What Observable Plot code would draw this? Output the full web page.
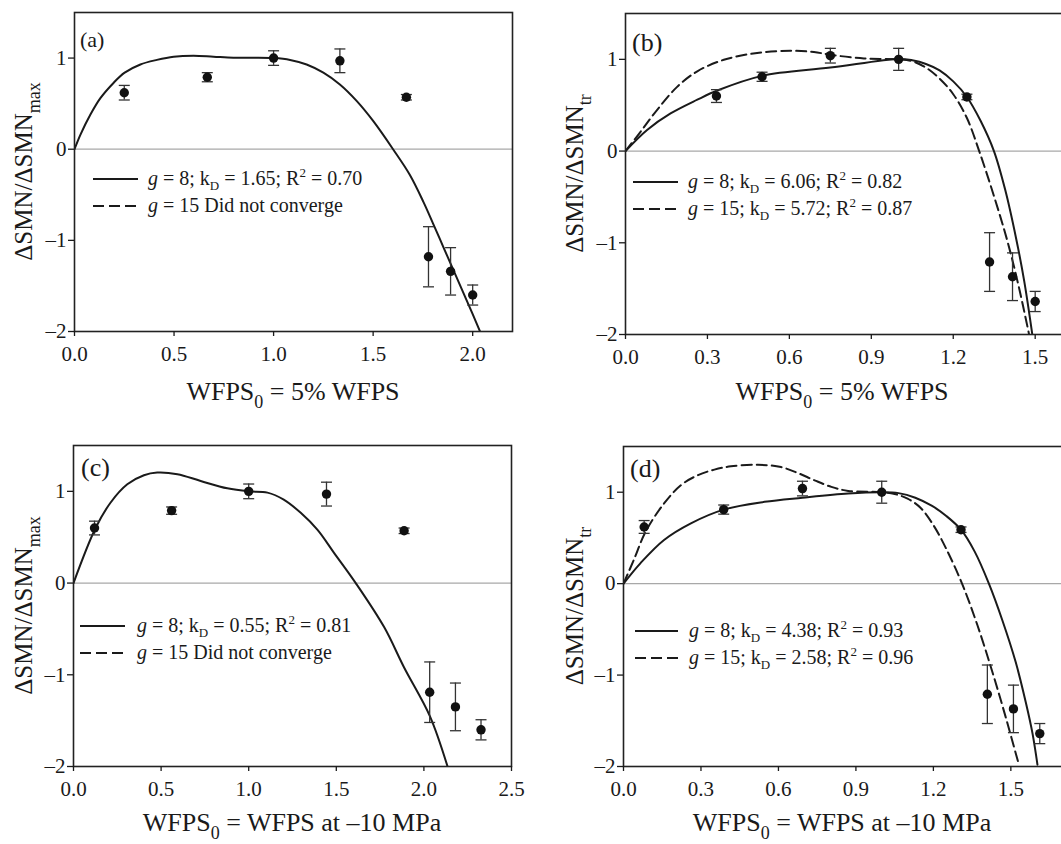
<!DOCTYPE html>
<html><head><meta charset="utf-8">
<script src="https://cdn.jsdelivr.net/npm/d3@7"></script>
<script src="https://cdn.jsdelivr.net/npm/@observablehq/plot@0.6"></script>
<style>
html,body{margin:0;padding:0;background:#fff;overflow:hidden;}
#root{position:relative;width:1061px;height:844px;overflow:hidden;}
.panel{position:absolute;}
</style></head><body><div id="root"></div>
<script>
// ---------- data ----------
const yTicks = [-2, -1, 0, 1];
const xTicksA = [0, 0.5, 1.0, 1.5, 2.0];
const xTicksB = [0, 0.3, 0.6, 0.9, 1.2, 1.5];
const xTicksC = [0, 0.5, 1.0, 1.5, 2.0, 2.5];
const xTicksD = [0, 0.3, 0.6, 0.9, 1.2, 1.5];

// observed points (x, y, +/- error)
const ptsA_x = [0.25, 0.667, 1.0, 1.333, 1.667, 1.778, 1.889, 2.0];
const ptsA_y = [0.62, 0.79, 1.0, 0.97, 0.57, -1.18, -1.34, -1.60];
const ptsA_e = [0.08, 0.05, 0.08, 0.13, 0.03, 0.33, 0.26, 0.11];

const ptsB_x = [0.333, 0.5, 0.75, 1.0, 1.25, 1.333, 1.417, 1.5];
const ptsB_y = [0.60, 0.81, 1.04, 1.0, 0.59, -1.21, -1.37, -1.64];
const ptsB_e = [0.07, 0.05, 0.08, 0.12, 0.03, 0.32, 0.26, 0.11];

const ptsC_x = [0.12, 0.56, 1.0, 1.444, 1.887, 2.033, 2.18, 2.326];
const ptsC_y = [0.60, 0.79, 1.0, 0.97, 0.57, -1.19, -1.35, -1.60];
const ptsC_e = [0.075, 0.04, 0.08, 0.13, 0.03, 0.33, 0.26, 0.11];

const ptsD_x = [0.08, 0.388, 0.693, 1.0, 1.307, 1.409, 1.51, 1.612];
const ptsD_y = [0.62, 0.81, 1.04, 1.0, 0.59, -1.21, -1.37, -1.64];
const ptsD_e = [0.07, 0.05, 0.08, 0.12, 0.03, 0.32, 0.26, 0.11];

const fitA8_x = [0, 0.03, 0.08, 0.13, 0.197, 0.252, 0.331, 0.414, 0.498, 0.598, 0.698, 0.798, 0.899, 1.0, 1.083, 1.166, 1.25, 1.333, 1.417, 1.50, 1.60, 1.684, 1.753, 1.80, 1.85, 1.90, 1.95, 2.0, 2.037];
const fitA8_y = [0, 0.16, 0.38, 0.56, 0.73, 0.84, 0.93, 0.98, 1.015, 1.026, 1.015, 1.004, 1.004, 1.0, 0.98, 0.93, 0.84, 0.71, 0.53, 0.31, 0, -0.28, -0.58, -0.81, -1.06, -1.31, -1.56, -1.81, -2.0];

const fitB8_x = [0, 0.079, 0.165, 0.263, 0.336, 0.50, 0.75, 1.0, 1.05, 1.10, 1.15, 1.20, 1.25, 1.30, 1.349, 1.39, 1.43, 1.46, 1.489];
const fitB8_y = [0, 0.23, 0.41, 0.56, 0.66, 0.82, 0.91, 1.005, 0.99, 0.95, 0.88, 0.76, 0.59, 0.33, 0, -0.42, -0.95, -1.42, -1.99];
const fitB15_x = [0, 0.055, 0.116, 0.189, 0.263, 0.36, 0.482, 0.604, 0.69, 0.75, 0.873, 1.0, 1.05, 1.10, 1.15, 1.20, 1.25, 1.295, 1.35, 1.40, 1.44, 1.477];
const fitB15_y = [0, 0.21, 0.45, 0.70, 0.87, 0.995, 1.07, 1.093, 1.08, 1.05, 1.01, 1.0, 0.98, 0.91, 0.79, 0.62, 0.36, 0, -0.5, -1.0, -1.48, -1.99];

const fitC8_x = [0, 0.126, 0.211, 0.307, 0.402, 0.478, 0.593, 0.726, 0.878, 1.0, 1.107, 1.20, 1.297, 1.393, 1.487, 1.611, 1.773, 1.887, 2.034, 2.135];
const fitC8_y = [0, 0.60, 0.876, 1.077, 1.176, 1.205, 1.187, 1.113, 1.033, 1.0, 0.986, 0.91, 0.766, 0.58, 0.33, 0, -0.48, -0.92, -1.45, -2.0];

const fitD8_x = [0, 0.066, 0.157, 0.261, 0.388, 0.546, 0.693, 0.87, 1.0, 1.065, 1.13, 1.195, 1.25, 1.307, 1.36, 1.415, 1.467, 1.519, 1.558, 1.584, 1.603];
const fitD8_y = [0, 0.225, 0.478, 0.66, 0.81, 0.895, 0.94, 0.986, 1.0, 0.99, 0.94, 0.85, 0.74, 0.59, 0.35, 0, -0.40, -0.86, -1.30, -1.64, -1.98];
const fitD15_x = [0, 0.04, 0.086, 0.157, 0.222, 0.287, 0.352, 0.416, 0.52, 0.61, 0.675, 0.74, 0.805, 0.87, 1.0, 1.05, 1.10, 1.15, 1.20, 1.25, 1.311, 1.37, 1.43, 1.48, 1.532];
const fitD15_y = [0, 0.26, 0.57, 0.877, 1.076, 1.185, 1.247, 1.283, 1.30, 1.275, 1.21, 1.13, 1.058, 1.014, 1.0, 0.98, 0.93, 0.83, 0.64, 0.38, 0, -0.45, -0.98, -1.46, -1.99];

// texts
const panelTags = ["(a)", "(b)", "(c)", "(d)"];
const yLabelMain = "ΔSMN/ΔSMN";
const yLabelSubs = ["max", "tr", "max", "tr"];
const xLabelTails = [" = 5% WFPS", " = 5% WFPS", " = WFPS at –10 MPa", " = WFPS at –10 MPa"];
const legendA = [["8", "1.65", "0.70"], ["15", null, null]];
const legendB = [["8", "6.06", "0.82"], ["15", "5.72", "0.87"]];
const legendC = [["8", "0.55", "0.81"], ["15", null, null]];
const legendD = [["8", "4.38", "0.93"], ["15", "2.58", "0.96"]];

// ---------- drawing ----------
const FONT = "'Liberation Serif','Times New Roman',serif";
const INK = "#1a1a1a";
const zip = (xs, ys) => xs.map((x, i) => ({x, y: ys[i]}));
const capSym = {draw(ctx) { ctx.moveTo(-5.5, 0); ctx.lineTo(5.5, 0); }};

function richText(g, x, y, segs, size, anchor) {
  const t = g.append("text").attr("x", x).attr("y", y).attr("font-size", size)
    .attr("font-family", FONT).attr("fill", INK).attr("text-anchor", anchor || "start");
  let shift = 0;
  for (const s of segs) {
    const target = s.sub ? (s.subShift ?? size * 0.27) : s.sup ? -size * 0.4 : 0;
    const ts = t.append("tspan").text(s.t);
    if (target - shift !== 0) ts.attr("dy", target - shift);
    shift = target;
    if (s.sub || s.sup) ts.attr("font-size", s.size ?? size * 0.65);
    if (s.italic) ts.attr("font-style", "italic");
  }
  return t;
}

function legendSegs(row) {
  const [g, kd, r2] = row;
  if (kd == null) return [{t: "g", italic: true}, {t: ` = ${g} Did not converge`}];
  return [{t: "g", italic: true}, {t: ` = ${g}; k`}, {t: "D", sub: true}, {t: ` = ${kd}; R`}, {t: "2", sup: true}, {t: ` = ${r2}`}];
}

function panel(cfg) {
  const pts = cfg.px.map((x, i) => ({x, y: cfg.py[i], lo: cfg.py[i] - cfg.pe[i], hi: cfg.py[i] + cfg.pe[i]}));
  const marks = [
    Plot.ruleY([0], {stroke: "#a8a8a8", strokeWidth: 1.3}),
    ...cfg.fits.map(f => Plot.line(zip(f.x, f.y), {x: "x", y: "y", curve: "catmull-rom", stroke: INK, strokeWidth: 2, strokeDasharray: f.dash ? "10,5" : null, clip: true})),
    Plot.ruleX(pts, {x: "x", y1: "lo", y2: "hi", stroke: "#333", strokeWidth: 1.3}),
    Plot.dot(pts, {x: "x", y: "hi", symbol: capSym, fill: "none", stroke: "#333", strokeWidth: 1.3}),
    Plot.dot(pts, {x: "x", y: "lo", symbol: capSym, fill: "none", stroke: "#333", strokeWidth: 1.3}),
    Plot.dot(pts, {x: "x", y: "y", r: 4.7, fill: "#111", stroke: "none"}),
    Plot.frame({stroke: "#222", strokeWidth: 1.6}),
    Plot.axisX({ticks: cfg.xTicks, tickFormat: d3.format(".1f"), tickSize: 5, tickPadding: 10, label: null, strokeWidth: 1.3}),
    Plot.axisY({ticks: yTicks, tickFormat: d => d < 0 ? "–" + Math.abs(d) : String(d), tickSize: 6, tickPadding: 2, label: null, strokeWidth: 1.3})
  ];
  const svgEl = Plot.plot({
    width: cfg.w, height: cfg.h,
    marginLeft: cfg.mL, marginRight: cfg.mR, marginTop: cfg.mT, marginBottom: cfg.mB,
    x: {domain: cfg.xDomain},
    y: {domain: [-2, 1.5]},
    style: {fontFamily: FONT, fontSize: "21px", color: INK, background: "transparent", overflow: "visible", maxWidth: "none"},
    marks
  });
  const svg = d3.select(svgEl);
  const g = svg.append("g");
  // panel tag
  g.append("text").attr("x", cfg.tag[0]).attr("y", cfg.tag[1]).attr("font-size", cfg.tag[2])
    .attr("text-anchor", "start").attr("font-family", FONT).attr("fill", INK).text(panelTags[cfg.i]);
  // y label
  const yl = g.append("g").attr("transform", `translate(${cfg.yl[0]},${cfg.yl[1]}) rotate(-90)`);
  richText(yl, 0, 0, [{t: yLabelMain}, {t: yLabelSubs[cfg.i], sub: true, size: 18, subShift: 8}], 25, "middle");
  // x label
  richText(g, cfg.xl[0], cfg.xl[1], [{t: "WFPS"}, {t: "0", sub: true, size: 18, subShift: 8}, {t: xLabelTails[cfg.i]}], 26, "middle");
  // legend
  const L = cfg.leg;
  cfg.legRows.forEach((row, k) => {
    const ly = L.y0 + k * L.dy;
    g.append("line").attr("x1", L.x1).attr("x2", L.x2).attr("y1", ly).attr("y2", ly)
      .attr("stroke", INK).attr("stroke-width", 2).attr("stroke-dasharray", k === 1 ? "11,5" : null);
    richText(g, L.tx, ly + 6, legendSegs(row), 20);
  });
  const div = document.createElement("div");
  div.className = "panel";
  div.style.left = cfg.left + "px"; div.style.top = cfg.top + "px";
  div.style.width = cfg.w + "px"; div.style.height = cfg.h + "px";
  div.appendChild(svgEl);
  document.getElementById("root").appendChild(div);
}

panel({i: 0, left: 0, top: 0, w: 530, h: 420, mL: 74, mR: 18, mT: 12, mB: 89, xDomain: [0, 2.2], xTicks: xTicksA,
  px: ptsA_x, py: ptsA_y, pe: ptsA_e, fits: [{x: fitA8_x, y: fitA8_y}],
  tag: [80, 47, 22], yl: [32, 171.5], xl: [293, 400], leg: {x1: 93, x2: 138, tx: 148, y0: 179, dy: 27}, legRows: legendA});
panel({i: 1, left: 530, top: 0, w: 533, h: 420, mL: 95, mR: 1, mT: 13, mB: 86, xDomain: [0, 1.6], xTicks: xTicksB,
  px: ptsB_x, py: ptsB_y, pe: ptsB_e, fits: [{x: fitB8_x, y: fitB8_y}, {x: fitB15_x, y: fitB15_y, dash: true}],
  tag: [102, 51, 26], yl: [53, 173.5], xl: [312, 400], leg: {x1: 103, x2: 148, tx: 158, y0: 182, dy: 27}, legRows: legendB});
panel({i: 2, left: 0, top: 420, w: 530, h: 424, mL: 73, mR: 19, mT: 25, mB: 78, xDomain: [0, 2.5], xTicks: xTicksC,
  px: ptsC_x, py: ptsC_y, pe: ptsC_e, fits: [{x: fitC8_x, y: fitC8_y}],
  tag: [81, 56, 26], yl: [32, 185.5], xl: [292, 411], leg: {x1: 80, x2: 125, tx: 137, y0: 206, dy: 27}, legRows: legendC});
panel({i: 3, left: 530, top: 420, w: 533, h: 424, mL: 93, mR: 1, mT: 26, mB: 78, xDomain: [0, 1.7], xTicks: xTicksD,
  px: ptsD_x, py: ptsD_y, pe: ptsD_e, fits: [{x: fitD8_x, y: fitD8_y}, {x: fitD15_x, y: fitD15_y, dash: true}],
  tag: [100, 57, 26], yl: [53, 186], xl: [312, 411], leg: {x1: 105, x2: 148, tx: 159, y0: 211, dy: 27}, legRows: legendD});
</script></body></html>
